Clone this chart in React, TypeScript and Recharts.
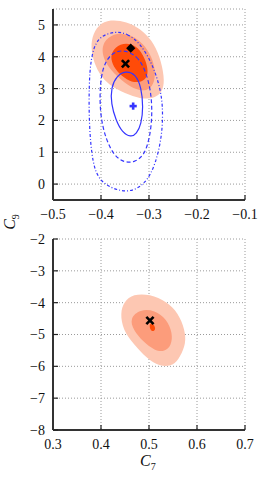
import React from 'react';
import { ScatterChart, Scatter, XAxis, YAxis, CartesianGrid } from 'recharts';

type Pt = { x: number; y: number };

// ---- upper panel (C7 vs C9) ----
const topXTicks = [-0.5, -0.4, -0.3, -0.2, -0.1];
const topYTicks = [0, 1, 2, 3, 4, 5];

const topOuter: Pt[] = [
  { x: -0.381, y: 5.18 }, { x: -0.346, y: 5.1 }, { x: -0.319, y: 4.89 }, { x: -0.294, y: 4.53 },
  { x: -0.277, y: 4.0 }, { x: -0.268, y: 3.37 }, { x: -0.27, y: 2.96 }, { x: -0.284, y: 2.73 },
  { x: -0.305, y: 2.66 }, { x: -0.333, y: 2.75 }, { x: -0.367, y: 2.96 }, { x: -0.395, y: 3.27 },
  { x: -0.412, y: 3.69 }, { x: -0.421, y: 4.21 }, { x: -0.419, y: 4.63 }, { x: -0.406, y: 5.0 },
];
const topMid: Pt[] = [
  { x: -0.367, y: 4.77 }, { x: -0.336, y: 4.68 }, { x: -0.312, y: 4.42 }, { x: -0.294, y: 4.0 },
  { x: -0.286, y: 3.53 }, { x: -0.29, y: 3.11 }, { x: -0.305, y: 2.92 }, { x: -0.326, y: 2.96 },
  { x: -0.35, y: 3.17 }, { x: -0.374, y: 3.48 }, { x: -0.392, y: 3.84 }, { x: -0.399, y: 4.21 },
  { x: -0.392, y: 4.55 },
];
const topInner: Pt[] = [
  { x: -0.36, y: 4.42 }, { x: -0.336, y: 4.42 }, { x: -0.319, y: 4.23 }, { x: -0.307, y: 3.9 },
  { x: -0.301, y: 3.53 }, { x: -0.307, y: 3.27 }, { x: -0.326, y: 3.17 }, { x: -0.346, y: 3.27 },
  { x: -0.367, y: 3.53 }, { x: -0.379, y: 3.84 }, { x: -0.379, y: 4.16 },
];
const blueSolid: Pt[] = [
  { x: -0.349, y: 3.56 }, { x: -0.328, y: 3.46 }, { x: -0.316, y: 3.04 }, { x: -0.312, y: 2.41 },
  { x: -0.316, y: 1.89 }, { x: -0.326, y: 1.57 }, { x: -0.338, y: 1.47 }, { x: -0.356, y: 1.63 },
  { x: -0.369, y: 2.01 }, { x: -0.379, y: 2.52 }, { x: -0.379, y: 3.04 }, { x: -0.367, y: 3.4 },
];
const blueDashed: Pt[] = [
  { x: -0.356, y: 4.24 }, { x: -0.324, y: 4.03 }, { x: -0.307, y: 3.56 }, { x: -0.296, y: 2.93 },
  { x: -0.293, y: 2.2 }, { x: -0.298, y: 1.47 }, { x: -0.31, y: 0.89 }, { x: -0.331, y: 0.68 },
  { x: -0.352, y: 0.68 }, { x: -0.373, y: 0.89 }, { x: -0.39, y: 1.42 }, { x: -0.401, y: 2.1 },
  { x: -0.403, y: 2.93 }, { x: -0.397, y: 3.67 }, { x: -0.38, y: 4.09 },
];
const blueDashDot: Pt[] = [
  { x: -0.373, y: 4.8 }, { x: -0.345, y: 4.74 }, { x: -0.317, y: 4.4 }, { x: -0.293, y: 3.77 },
  { x: -0.279, y: 3.14 }, { x: -0.271, y: 2.52 }, { x: -0.272, y: 1.57 }, { x: -0.286, y: 0.63 },
  { x: -0.307, y: 0.0 }, { x: -0.345, y: -0.32 }, { x: -0.401, y: 0.0 }, { x: -0.418, y: 0.63 },
  { x: -0.425, y: 1.89 }, { x: -0.425, y: 3.14 }, { x: -0.421, y: 3.98 }, { x: -0.408, y: 4.61 },
];
const topDiamond: Pt[] = [{ x: -0.338, y: 4.27 }];
const topCross: Pt[] = [{ x: -0.349, y: 3.78 }];
const topPlus: Pt[] = [{ x: -0.333, y: 2.45 }];

// ---- lower panel ----
const botXTicks = [0.3, 0.4, 0.5, 0.6, 0.7];
const botYTicks = [-8, -7, -6, -5, -4, -3, -2];

const botOuter: Pt[] = [
  { x: 0.467, y: -3.73 }, { x: 0.502, y: -3.73 }, { x: 0.537, y: -3.97 }, { x: 0.561, y: -4.33 },
  { x: 0.575, y: -4.86 }, { x: 0.577, y: -5.28 }, { x: 0.565, y: -5.7 }, { x: 0.551, y: -5.99 },
  { x: 0.523, y: -6.01 }, { x: 0.495, y: -5.75 }, { x: 0.467, y: -5.28 }, { x: 0.446, y: -4.86 },
  { x: 0.44, y: -4.33 }, { x: 0.448, y: -3.97 },
];
const botMid: Pt[] = [
  { x: 0.481, y: -4.21 }, { x: 0.512, y: -4.23 }, { x: 0.537, y: -4.52 }, { x: 0.549, y: -4.96 },
  { x: 0.547, y: -5.33 }, { x: 0.533, y: -5.54 }, { x: 0.512, y: -5.51 }, { x: 0.488, y: -5.23 },
  { x: 0.467, y: -4.86 }, { x: 0.46, y: -4.49 },
];
const botInner: Pt[] = [
  { x: 0.502, y: -4.65 }, { x: 0.51, y: -4.67 }, { x: 0.514, y: -4.81 }, { x: 0.51, y: -4.91 },
  { x: 0.504, y: -4.88 }, { x: 0.501, y: -4.76 },
];
const botCross: Pt[] = [{ x: 0.502, y: -4.56 }];

const LIGHT = '#fdc7b2';
const MID = '#fc9c7b';
const DEEP = '#ff4b08';
const BLUE = '#3535ff';
const SERIF = '"Liberation Serif", "DejaVu Serif", serif';

const minor = (from: number, to: number, step: number) => {
  const out: number[] = [];
  const n = Math.round((to - from) / step);
  for (let i = 0; i <= n; i++) out.push(+(from + i * step).toFixed(4));
  return out;
};

const fmt = (d: number) => (v: number) => v.toFixed(d).replace('-', '\u2212');

const NoDot = () => <g />;

const XMark = (p: any) => {
  const r = 3.6;
  return (
    <g stroke="#000" strokeWidth={2.6}>
      <line x1={p.cx - r} y1={p.cy - r} x2={p.cx + r} y2={p.cy + r} />
      <line x1={p.cx - r} y1={p.cy + r} x2={p.cx + r} y2={p.cy - r} />
    </g>
  );
};
const Diamond = (p: any) => {
  const r = 4.6;
  return <polygon points={`${p.cx},${p.cy - r} ${p.cx + r},${p.cy} ${p.cx},${p.cy + r} ${p.cx - r},${p.cy}`} fill="#000" />;
};
const Plus = (p: any) => {
  const r = 3.6;
  return (
    <g stroke={BLUE} strokeWidth={2.6}>
      <line x1={p.cx - r} y1={p.cy} x2={p.cx + r} y2={p.cy} />
      <line x1={p.cx} y1={p.cy - r} x2={p.cx} y2={p.cy + r} />
    </g>
  );
};

const frameLine = { stroke: '#333', strokeWidth: 2 };
const tickLine = { stroke: '#222', strokeWidth: 1.2 };
const tickFont = { fill: '#111', fontSize: 14, fontFamily: SERIF, style: { fontFamily: SERIF } };

function filled(data: Pt[], color: string) {
  return (
    <Scatter data={data} isAnimationActive={false} shape={NoDot}
      line={{ fill: color, stroke: 'none' }} lineJointType="basisClosed" />
  );
}
function outline(data: Pt[], dash?: string) {
  return (
    <Scatter data={data} isAnimationActive={false} shape={NoDot}
      line={{ fill: 'none', stroke: BLUE, strokeWidth: 1.2, strokeDasharray: dash }} lineJointType="basisClosed" />
  );
}

function Panel(props: {
  top: number; height: number; xDomain: number[]; yDomain: number[];
  xTicks: number[]; yTicks: number[]; xMinor: number[]; yMinor: number[];
  xDigits: number; children: React.ReactNode;
}) {
  const { top, height, xDomain, yDomain, xTicks, yTicks, xMinor, yMinor, xDigits, children } = props;
  const common = { type: 'number' as const, allowDataOverflow: true, interval: 0 as const };
  return (
    <div style={{ position: 'absolute', left: 0, top, width: 266, height, fontFamily: SERIF }}>
      <ScatterChart width={266} height={height} margin={{ top: 9, right: 21, bottom: height - 230, left: 8 }}
        style={{ fontFamily: SERIF }}>
        {children}
        <CartesianGrid stroke="#9a9a9a" strokeDasharray="1 2" />
        <XAxis {...common} xAxisId={0} dataKey="x" domain={xDomain} ticks={xTicks} tickFormatter={fmt(xDigits)}
          height={30} tickSize={-5} tickMargin={14} axisLine={frameLine} tickLine={tickLine} tick={tickFont} />
        <XAxis {...common} xAxisId="xm" domain={xDomain} ticks={xMinor} height={0} tick={false}
          tickSize={-2.5} axisLine={false} tickLine={tickLine} />
        <XAxis {...common} xAxisId="xt" orientation="top" domain={xDomain} ticks={xTicks} height={0} tick={false}
          tickSize={-5} axisLine={frameLine} tickLine={tickLine} />
        <XAxis {...common} xAxisId="xtm" orientation="top" domain={xDomain} ticks={xMinor} height={0} tick={false}
          tickSize={-2.5} axisLine={false} tickLine={tickLine} />
        <YAxis {...common} yAxisId={0} dataKey="y" domain={yDomain} ticks={yTicks} tickFormatter={fmt(0)}
          width={45} tickSize={-5} tickMargin={13} axisLine={frameLine} tickLine={tickLine} tick={tickFont} />
        <YAxis {...common} yAxisId="ym" domain={yDomain} ticks={yMinor} width={0} tick={false}
          tickSize={-2.5} axisLine={false} tickLine={tickLine} />
        <YAxis {...common} yAxisId="yr" orientation="right" domain={yDomain} ticks={yTicks} width={0} tick={false}
          tickSize={-5} axisLine={frameLine} tickLine={tickLine} />
        <YAxis {...common} yAxisId="yrm" orientation="right" domain={yDomain} ticks={yMinor} width={0} tick={false}
          tickSize={-2.5} axisLine={false} tickLine={tickLine} />
      </ScatterChart>
    </div>
  );
}

const titleFont: React.CSSProperties = { fontFamily: SERIF, fontSize: 16, color: '#111', whiteSpace: 'nowrap', lineHeight: '16px' };

export default function App() {
  return (
    <div style={{ position: 'absolute', left: 0, top: 0, width: 266, height: 478, background: '#fff' }}>
      <Panel top={0} height={240} xDomain={[-0.5, -0.1]} yDomain={[-0.5, 5.5]} xTicks={topXTicks} yTicks={topYTicks}
        xMinor={minor(-0.5, -0.1, 0.02)} yMinor={minor(-0.4, 5.4, 0.2)} xDigits={1}>
        {filled(topOuter, LIGHT)}
        {filled(topMid, MID)}
        {filled(topInner, DEEP)}
        {outline(blueDashDot, '3 2 1 2')}
        {outline(blueDashed, '4 2.5')}
        {outline(blueSolid)}
        <Scatter data={topDiamond} isAnimationActive={false} shape={Diamond} />
        <Scatter data={topCross} isAnimationActive={false} shape={XMark} />
        <Scatter data={topPlus} isAnimationActive={false} shape={Plus} />
      </Panel>
      <Panel top={230} height={248} xDomain={[0.3, 0.7]} yDomain={[-8, -2]} xTicks={botXTicks} yTicks={botYTicks}
        xMinor={minor(0.3, 0.7, 0.02)} yMinor={minor(-8, -2, 0.2)} xDigits={1}>
        {filled(botOuter, LIGHT)}
        {filled(botMid, MID)}
        {filled(botInner, DEEP)}
        <Scatter data={botCross} isAnimationActive={false} shape={XMark} />
      </Panel>
      <div style={{ ...titleFont, position: 'absolute', left: 140, top: 453 }}>
        <i>C</i><span style={{ fontSize: 10, position: 'relative', top: 4 }}>7</span>
      </div>
      <div style={{ ...titleFont, position: 'absolute', left: 3, top: 213, transform: 'rotate(-90deg)' }}>
        <i>C</i><span style={{ fontSize: 10, position: 'relative', top: 4 }}>9</span>
      </div>
    </div>
  );
}
